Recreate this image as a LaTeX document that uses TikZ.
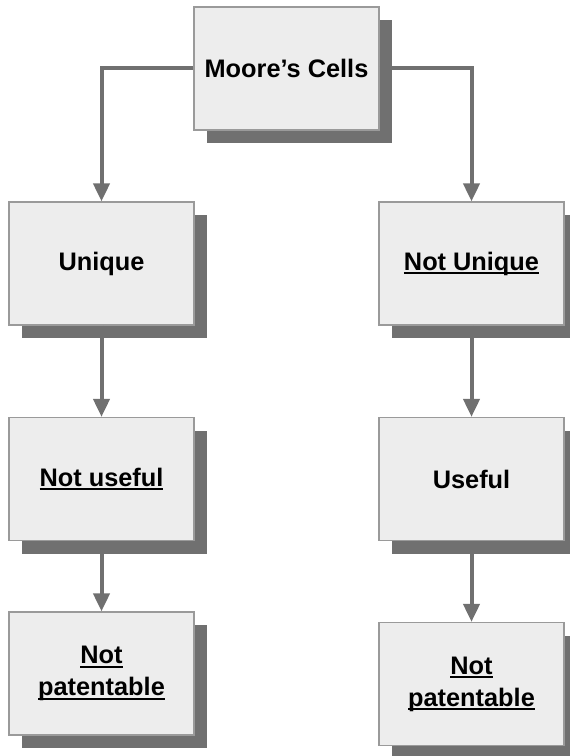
\documentclass[tikz,border=0pt]{standalone}
\usepackage{fontspec}
\setmainfont{Liberation Sans}
\usetikzlibrary{arrows.meta,shadows}
\definecolor{boxfill}{HTML}{EDEDED}
\definecolor{boxline}{HTML}{9A9A9A}
\definecolor{shade}{HTML}{707070}
\newcommand\ulx[1]{\setbox0\hbox{#1}\rlap{\rule[-3.2pt]{\wd0}{1.5pt}}\box0}
\tikzset{
  cellbox/.style={draw=boxline, line width=0.9pt, fill=boxfill,
    minimum width=138.75pt, minimum height=92.25pt, inner sep=0pt,
    align=center, font=\fontsize{19}{24}\selectfont\bfseries,
    drop shadow={shadow xshift=9.75pt, shadow yshift=-9.75pt, fill=shade, opacity=1, draw=none}},
  conn/.style={draw=shade, line width=3pt,
    -{Triangle[width=12pt,length=13.5pt]}, shorten >=0pt}
}
\begin{document}
\begin{tikzpicture}[x=0.75pt,y=-0.75pt]
\useasboundingbox (0,0) rectangle (569,756);
\node[cellbox] (top) at (286.5,68.5) {Moore’s Cells};
\node[cellbox] (uniq) at (101.5,263.5) {Unique};
\node[cellbox] (nuniq) at (471.5,263.5) {\ulx{Not Unique}};
\node[cellbox] (nuse) at (101.5,479) {\ulx{Not useful}};
\node[cellbox] (use) at (471.5,479) {Useful};
\node[cellbox] (np1) at (101.5,673.5) {\ulx{Not}\\\ulx{patentable}};
\node[cellbox] (np2) at (471.5,684) {\ulx{Not}\\\ulx{patentable}};
\draw[conn] (top.west) -| (uniq.north);
\draw[conn] (top.east) -| (nuniq.north);
\draw[conn] (uniq.south) -- (nuse.north);
\draw[conn] (nuse.south) -- (np1.north);
\draw[conn] (nuniq.south) -- (use.north);
\draw[conn] (use.south) -- (np2.north);
\end{tikzpicture}
\end{document}
